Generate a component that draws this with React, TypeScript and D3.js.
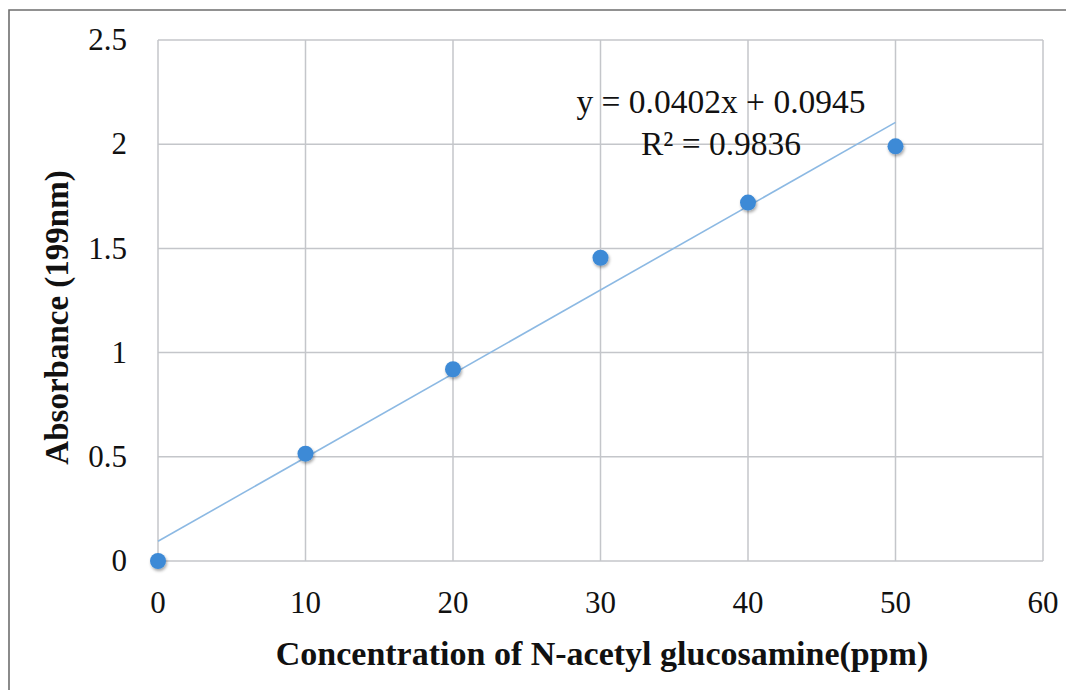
import React, { useEffect, useRef } from "react";
import * as d3 from "d3";

// concentration (ppm) and measured absorbance at 199 nm
const concentrations = [0, 10, 20, 30, 40, 50];
const absorbance = [0, 0.515, 0.92, 1.455, 1.72, 1.99];
const xTicks = [0, 10, 20, 30, 40, 50, 60];
const yTicks = [0, 0.5, 1, 1.5, 2, 2.5];
const fitSlope = 0.0402;
const fitIntercept = 0.0945;
const equationLines = ["y = 0.0402x + 0.0945", "R² = 0.9836"];

const W = 1066;
const H = 690;

export default function App() {
  const svgRef = useRef<SVGSVGElement>(null);

  useEffect(() => {
    const margin = { top: 40, right: 23, bottom: 129, left: 158 };
    const width = W - margin.left - margin.right;
    const height = H - margin.top - margin.bottom;
    const font = "'Liberation Serif', 'Times New Roman', serif";

    const root = d3.select(svgRef.current);
    root.selectAll("*").remove();

    const defs = root.append("defs");
    const shadow = defs.append("filter").attr("id", "dotShadow")
      .attr("x", "-50%").attr("y", "-50%").attr("width", "200%").attr("height", "200%");
    shadow.append("feDropShadow")
      .attr("dx", 1).attr("dy", 2).attr("stdDeviation", 1.6)
      .attr("flood-color", "#000").attr("flood-opacity", 0.35);

    // outer frame (only left and top edges visible)
    root.append("path")
      .attr("d", `M9,${H} V10 H${W}`)
      .attr("fill", "none")
      .attr("stroke", "#6e6e6e")
      .attr("stroke-width", 1.6);

    const svg = root.append("g").attr("transform", `translate(${margin.left},${margin.top})`);

    const x = d3.scaleLinear().domain([0, 60]).range([0, width]);
    const y = d3.scaleLinear().domain([0, 2.5]).range([height, 0]);

    // gridlines
    svg.append("g")
      .selectAll("line")
      .data(xTicks)
      .join("line")
      .attr("x1", (d) => x(d)).attr("x2", (d) => x(d))
      .attr("y1", 0).attr("y2", height)
      .attr("stroke", "#c4c6ca").attr("stroke-width", 1.5);

    svg.append("g")
      .selectAll("line")
      .data(yTicks)
      .join("line")
      .attr("x1", 0).attr("x2", width)
      .attr("y1", (d) => y(d)).attr("y2", (d) => y(d))
      .attr("stroke", "#c4c6ca").attr("stroke-width", 1.5);

    // x tick labels
    svg.append("g")
      .selectAll("text")
      .data(xTicks)
      .join("text")
      .attr("x", (d) => x(d))
      .attr("y", height + 52)
      .attr("text-anchor", "middle")
      .attr("font-family", font)
      .attr("font-size", 31)
      .attr("fill", "#111")
      .text((d) => d);

    // y tick labels
    svg.append("g")
      .selectAll("text")
      .data(yTicks)
      .join("text")
      .attr("x", -31)
      .attr("y", (d) => y(d))
      .attr("dy", "0.33em")
      .attr("text-anchor", "end")
      .attr("font-family", font)
      .attr("font-size", 31)
      .attr("fill", "#111")
      .text((d) => d);

    // linear trendline
    const fitX = d3.extent(concentrations) as [number, number];
    svg.append("line")
      .attr("x1", x(fitX[0])).attr("y1", y(fitSlope * fitX[0] + fitIntercept))
      .attr("x2", x(fitX[1])).attr("y2", y(fitSlope * fitX[1] + fitIntercept))
      .attr("stroke", "#8cb9e3").attr("stroke-width", 1.6);

    // data points
    svg.append("g")
      .selectAll("circle")
      .data(concentrations)
      .join("circle")
      .attr("cx", (d) => x(d))
      .attr("cy", (d, i) => y(absorbance[i]))
      .attr("r", 8)
      .attr("fill", "#3d8ad6")
      .attr("filter", "url(#dotShadow)");

    // equation label
    svg.append("g")
      .selectAll("text")
      .data(equationLines)
      .join("text")
      .attr("x", 563)
      .attr("y", (d, i) => 73 + i * 42)
      .attr("text-anchor", "middle")
      .attr("font-family", font)
      .attr("font-size", 33.5)
      .attr("fill", "#111")
      .text((d) => d);

    // axis titles
    root.append("text")
      .attr("x", 602)
      .attr("y", 665)
      .attr("text-anchor", "middle")
      .attr("font-family", font)
      .attr("font-weight", "bold")
      .attr("font-size", 34)
      .attr("fill", "#111")
      .text("Concentration of N-acetyl glucosamine(ppm)");

    root.append("text")
      .attr("transform", `translate(68,${margin.top + height / 2 + 17}) rotate(-90)`)
      .attr("text-anchor", "middle")
      .attr("font-family", font)
      .attr("font-weight", "bold")
      .attr("font-size", 33)
      .attr("fill", "#111")
      .text("Absorbance (199nm)");
  }, []);

  return (
    <svg
      ref={svgRef}
      width={W}
      height={H}
      style={{ position: "absolute", left: 0, top: 0, background: "#fff" }}
    />
  );
}
